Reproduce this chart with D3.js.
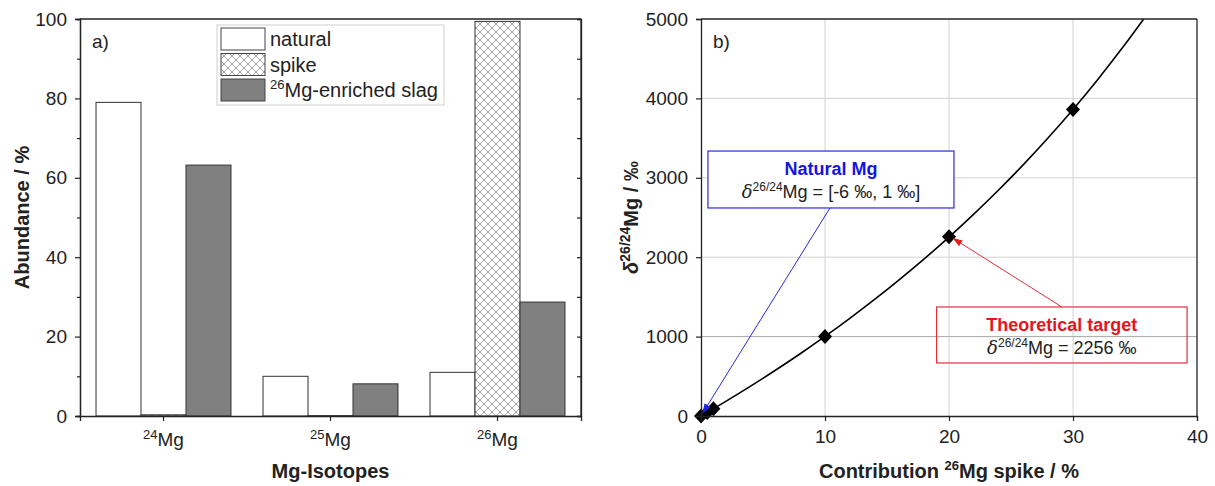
<!DOCTYPE html>
<html>
<head>
<meta charset="utf-8">
<script src="https://cdn.jsdelivr.net/npm/d3@7/dist/d3.min.js"></script>
<style>
  html, body { margin: 0; padding: 0; background: #fff; }
  svg { display: block; font-family: "Liberation Sans", Arial, sans-serif; }
</style>
</head>
<body>
<svg id="chart" width="1215" height="486"></svg>
<script>
// ---- Panel a) isotope abundances (%) ----
const isotopes = ["24", "25", "26"];
const seriesNames = ["natural", "spike", "slag"];
const naturalAbund = [79.0, 10.0, 11.0];
const spikeAbund = [0.3, 0.1, 99.4];
const slagAbund = [63.2, 8.1, 28.7];
const abundTicks = [0, 20, 40, 60, 80, 100];

// ---- Panel b) delta vs. spike contribution ----
const curveX = [0, 2, 4, 6, 8, 10, 12, 14, 16, 18, 20, 22, 24, 26, 28, 30, 32, 34, 35.7];
const curveY = [0, 184, 376, 576, 784, 1002, 1230, 1468, 1718, 1979, 2254, 2543, 2846, 3166, 3504, 3861, 4239, 4640, 5000];
const pointX = [0, 0.5, 1, 10, 20, 30];
const pointY = [0, 45, 91, 1002, 2256, 3861];
const contribTicks = [0, 10, 20, 30, 40];
const deltaTicks = [0, 1000, 2000, 3000, 4000, 5000];

const svg = d3.select("#chart");
const defs = svg.append("defs");

// cross-hatch fill for the spike bars
const pat = defs.append("pattern").attr("id", "xhatch")
  .attr("patternUnits", "userSpaceOnUse").attr("width", 8).attr("height", 8);
pat.append("rect").attr("width", 8).attr("height", 8).attr("fill", "#fff");
pat.append("path").attr("d", "M0,0L8,8M8,0L0,8M-1,7L1,9M7,-1L9,1M-1,1L1,-1M7,9L9,7")
  .attr("stroke", "#8a8a8a").attr("stroke-width", 0.8);

["blue", "red"].forEach((c, i) => {
  defs.append("marker").attr("id", "arrow-" + c)
    .attr("viewBox", "0 0 10 10").attr("refX", 9).attr("refY", 5)
    .attr("markerWidth", 10).attr("markerHeight", 10).attr("orient", "auto")
    .attr("markerUnits", "userSpaceOnUse")
    .append("path").attr("d", "M0,1.5L10,5L0,8.5Z")
    .attr("fill", i === 0 ? "#1f1fe6" : "#e81a1a");
});

const frameColor = "#222";
const tickFont = 19;

// ================= Panel a =================
const A = { x0: 80, x1: 581, y0: 19, y1: 416 };
const xCat = d3.scaleBand().domain(isotopes).range([A.x0, A.x1]).padding(0);
const xSer = d3.scaleBand().domain(seriesNames).range([0, xCat.bandwidth()])
  .paddingInner(0).paddingOuter(0.356);
const yAb = d3.scaleLinear().domain([0, 100]).range([A.y1, A.y0]);

const gA = svg.append("g");

const barData = [];
isotopes.forEach((iso, i) => {
  barData.push({ iso, s: "natural", v: naturalAbund[i] });
  barData.push({ iso, s: "spike", v: spikeAbund[i] });
  barData.push({ iso, s: "slag", v: slagAbund[i] });
});
const fillOf = { natural: "#ffffff", spike: "url(#xhatch)", slag: "#808080" };

gA.selectAll("rect.bar").data(barData).join("rect")
  .attr("class", "bar")
  .attr("x", d => xCat(d.iso) + xSer(d.s))
  .attr("width", xSer.bandwidth())
  .attr("y", d => yAb(d.v))
  .attr("height", d => yAb(0) - yAb(d.v))
  .attr("fill", d => fillOf[d.s])
  .attr("stroke", "#333").attr("stroke-width", 1);

// axes a
gA.append("g").attr("transform", `translate(${A.x0},0)`)
  .call(d3.axisLeft(yAb).tickValues(abundTicks).tickSize(5).tickPadding(8));
gA.append("g").attr("transform", `translate(${A.x0},0)`)
  .call(d3.axisLeft(yAb).tickValues([10, 30, 50, 70, 90]).tickSize(3).tickFormat(""));
gA.append("g").attr("transform", `translate(${A.x1},0)`)
  .call(d3.axisLeft(yAb).tickValues(d3.range(0, 101, 10)).tickSize(4).tickFormat(""));
gA.append("g").attr("transform", `translate(0,${A.y1})`)
  .call(d3.axisBottom(xCat).tickSize(5).tickFormat(""));
gA.append("line").attr("x1", A.x0).attr("x2", A.x1).attr("y1", A.y0).attr("y2", A.y0);
gA.append("line").attr("x1", A.x1).attr("x2", A.x1).attr("y1", A.y0).attr("y2", A.y1);

// isotope labels with mass-number superscripts
isotopes.forEach(iso => {
  const t = gA.append("text").attr("x", xCat(iso) + xCat.bandwidth() / 2).attr("y", 446)
    .attr("text-anchor", "middle").attr("font-size", tickFont).attr("fill", "#222");
  t.append("tspan").attr("font-size", 13).attr("dy", -7).text(iso);
  t.append("tspan").attr("dy", 7).text("Mg");
});

// legend
const leg = gA.append("g");
leg.append("rect").attr("x", 217).attr("y", 25).attr("width", 227).attr("height", 80)
  .attr("fill", "#fff").attr("stroke", "#cfcfcf").attr("stroke-width", 1);
const legLabels = ["natural", "spike", "Mg-enriched slag"];
seriesNames.forEach((s, i) => {
  const y = 28 + i * 25.5;
  leg.append("rect").attr("x", 221).attr("y", y).attr("width", 44).attr("height", 22)
    .attr("fill", fillOf[s]).attr("stroke", "#444").attr("stroke-width", 1);
  const t = leg.append("text").attr("x", 270).attr("y", y + 18)
    .attr("font-size", 20).attr("fill", "#222");
  if (s === "slag") {
    t.append("tspan").attr("font-size", 13).attr("dy", -8).text("26");
    t.append("tspan").attr("dy", 8).text(legLabels[i]);
  } else {
    t.text(legLabels[i]);
  }
});

gA.append("text").attr("x", 92).attr("y", 48).attr("font-size", 19).attr("fill", "#222").text("a)");

gA.append("text").attr("x", (A.x0 + A.x1) / 2).attr("y", 478).attr("text-anchor", "middle")
  .attr("font-size", 20).attr("font-weight", "bold").attr("fill", "#222").text("Mg-Isotopes");
gA.append("text").attr("transform", `translate(29,${(A.y0 + A.y1) / 2}) rotate(-90)`)
  .attr("text-anchor", "middle").attr("font-size", 20).attr("font-weight", "bold")
  .attr("fill", "#222").text("Abundance / %");

// ================= Panel b =================
const B = { x0: 701, x1: 1197, y0: 19, y1: 416 };
const xC = d3.scaleLinear().domain([0, 40]).range([B.x0, B.x1]);
const yD = d3.scaleLinear().domain([0, 5000]).range([B.y1, B.y0]);

const gB = svg.append("g");
const clipB = defs.append("clipPath").attr("id", "clipB");
clipB.append("rect").attr("x", B.x0).attr("y", B.y0).attr("width", B.x1 - B.x0).attr("height", B.y1 - B.y0);

// grid
gB.append("g").selectAll("line").data(contribTicks.slice(1, -1)).join("line")
  .attr("x1", d => xC(d)).attr("x2", d => xC(d)).attr("y1", B.y0).attr("y2", B.y1)
  .attr("stroke", "#d2d2d2").attr("stroke-width", 1);
gB.append("g").selectAll("line").data(deltaTicks.slice(1, -1)).join("line")
  .attr("x1", B.x0).attr("x2", B.x1).attr("y1", d => yD(d)).attr("y2", d => yD(d))
  .attr("stroke", d => d === 1000 ? "#a8a8a8" : "#d2d2d2").attr("stroke-width", 1);

// annotation boxes (drawn under the curve)
const blueBox = { xa: 0.56, xb: 20.4, ya: 3337, yb: 2620 };
const redBox = { xa: 19.0, xb: 39.2, ya: 1373, yb: 668 };
gB.append("rect").attr("x", xC(blueBox.xa)).attr("y", yD(blueBox.ya))
  .attr("width", xC(blueBox.xb) - xC(blueBox.xa)).attr("height", yD(blueBox.yb) - yD(blueBox.ya))
  .attr("fill", "#fff").attr("stroke", "#2a2ae0").attr("stroke-width", 1.2);
gB.append("rect").attr("x", xC(redBox.xa)).attr("y", yD(redBox.ya))
  .attr("width", xC(redBox.xb) - xC(redBox.xa)).attr("height", yD(redBox.yb) - yD(redBox.ya))
  .attr("fill", "none").attr("stroke", "#e0303a").attr("stroke-width", 1.2);

// mixing curve
const line = d3.line().x((d, i) => xC(curveX[i])).y((d, i) => yD(curveY[i])).curve(d3.curveCatmullRom);
gB.append("path").datum(curveX).attr("d", line).attr("clip-path", "url(#clipB)")
  .attr("fill", "none").attr("stroke", "#000").attr("stroke-width", 1.6);

// diamonds
gB.selectAll("path.pt").data(pointX).join("path").attr("class", "pt")
  .attr("transform", (d, i) => `translate(${xC(d)},${yD(pointY[i])})`)
  .attr("d", "M0,-7.5L7,0L0,7.5L-7,0Z").attr("fill", "#000");

// arrows
const blueArrow = { from: [10.4, 2620], to: [0.15, 40] };
const redArrow = { from: [29.1, 1373], to: [20.35, 2235] };
gB.append("line").attr("x1", xC(blueArrow.from[0])).attr("y1", yD(blueArrow.from[1]))
  .attr("x2", xC(blueArrow.to[0])).attr("y2", yD(blueArrow.to[1]))
  .attr("stroke", "#2a2ae0").attr("stroke-width", 1).attr("marker-end", "url(#arrow-blue)");
gB.append("line").attr("x1", xC(redArrow.from[0])).attr("y1", yD(redArrow.from[1]))
  .attr("x2", xC(redArrow.to[0])).attr("y2", yD(redArrow.to[1]))
  .attr("stroke", "#e0303a").attr("stroke-width", 1).attr("marker-end", "url(#arrow-red)");

// annotation texts
function deltaLine(g, x, y, rest) {
  const t = g.append("text").attr("x", x).attr("y", y).attr("text-anchor", "middle")
    .attr("font-size", 18).attr("fill", "#222");
  t.append("tspan").attr("font-style", "italic").attr("font-family", "'DejaVu Serif', serif").text("δ");
  t.append("tspan").attr("font-size", 12).attr("dy", -7).text("26/24");
  t.append("tspan").attr("dy", 7).text("Mg" + rest);
}
const bcx = (xC(blueBox.xa) + xC(blueBox.xb)) / 2;
gB.append("text").attr("x", bcx).attr("y", yD(blueBox.ya) + 24).attr("text-anchor", "middle")
  .attr("font-size", 18).attr("font-weight", "bold").attr("fill", "#1414e6").text("Natural Mg");
deltaLine(gB, bcx, yD(blueBox.ya) + 47, " = [-6 ‰, 1 ‰]");
const rcx = (xC(redBox.xa) + xC(redBox.xb)) / 2;
gB.append("text").attr("x", rcx).attr("y", yD(redBox.ya) + 24).attr("text-anchor", "middle")
  .attr("font-size", 18).attr("font-weight", "bold").attr("fill", "#e6141e").text("Theoretical target");
deltaLine(gB, rcx, yD(redBox.ya) + 47, " = 2256 ‰");

// axes b
gB.append("g").attr("transform", `translate(${B.x0},0)`)
  .call(d3.axisLeft(yD).tickValues(deltaTicks).tickFormat(d3.format("d")).tickSize(5).tickPadding(8));
gB.append("g").attr("transform", `translate(0,${B.y1})`)
  .call(d3.axisBottom(xC).tickValues(contribTicks).tickFormat(d3.format("d")).tickSize(5).tickPadding(9));
gB.append("line").attr("x1", B.x0).attr("x2", B.x1).attr("y1", B.y0).attr("y2", B.y0);
gB.append("line").attr("x1", B.x1).attr("x2", B.x1).attr("y1", B.y0).attr("y2", B.y1);

gB.append("text").attr("x", 713).attr("y", 48).attr("font-size", 19).attr("fill", "#222").text("b)");

const xt = gB.append("text").attr("x", (B.x0 + B.x1) / 2).attr("y", 478).attr("text-anchor", "middle")
  .attr("font-size", 20).attr("font-weight", "bold").attr("fill", "#222");
xt.append("tspan").text("Contribution ");
xt.append("tspan").attr("font-size", 13).attr("dy", -8).text("26");
xt.append("tspan").attr("dy", 8).text("Mg spike / %");

const yt = gB.append("text").attr("transform", `translate(638,${(B.y0 + B.y1) / 2}) rotate(-90)`)
  .attr("text-anchor", "middle").attr("font-size", 20).attr("font-weight", "bold").attr("fill", "#222");
yt.append("tspan").attr("font-style", "italic").text("δ");
yt.append("tspan").attr("font-size", 14).attr("dy", -8).text("26/24");
yt.append("tspan").attr("dy", 8).text("Mg / ‰");

// common axis styling
svg.selectAll(".domain").attr("stroke", frameColor).attr("stroke-width", 1.3);
svg.selectAll(".tick line").attr("stroke", frameColor).attr("stroke-width", 1.2);
svg.selectAll(".tick text").attr("font-size", tickFont).attr("fill", "#222")
  .attr("font-family", "'Liberation Sans', Arial, sans-serif");
svg.selectAll("g > line:not([stroke])").attr("stroke", frameColor).attr("stroke-width", 1.3);
</script>
</body>
</html>
